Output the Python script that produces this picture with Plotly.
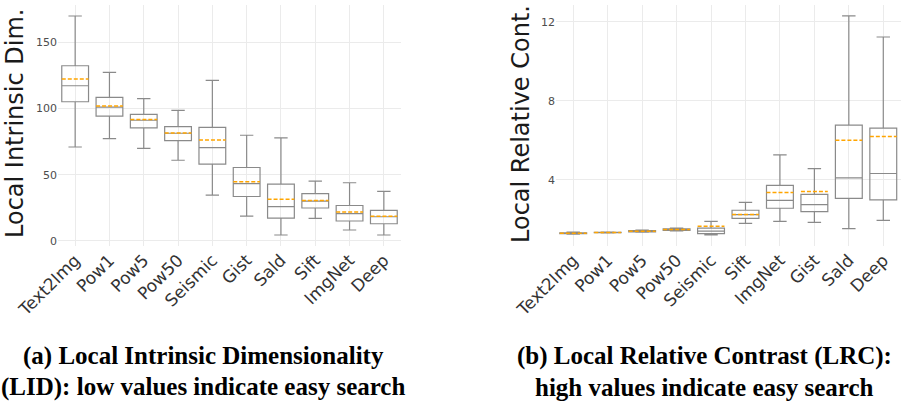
import plotly.graph_objects as go
from plotly.subplots import make_subplots

W, H = 901, 403

# ---- Data: Local Intrinsic Dimensionality (LID) ----
lid_cats = ["Text2Img", "Pow1", "Pow5", "Pow50", "Seismic", "Gist", "Sald", "Sift", "ImgNet", "Deep"]
lid_low = [71, 77.3, 70, 61, 34.7, 18.8, 4.5, 17, 8.3, 4.5]
lid_q1 = [105.2, 94.4, 85.4, 75.8, 58, 33.6, 17.3, 24.9, 15.1, 13]
lid_med = [117.3, 101.2, 91.2, 81.4, 70.6, 43.4, 25.9, 30.1, 20.6, 18.3]
lid_q3 = [132.4, 108.5, 95.7, 86.4, 85.9, 55.5, 43, 35.7, 26.8, 23.1]
lid_high = [170, 127.4, 107.5, 98.7, 121.3, 79.9, 77.9, 45.2, 44, 37.4]
lid_mean = [122.3, 102, 91.7, 81.5, 76.3, 44.7, 31.6, 30.6, 21.9, 18.6]

# ---- Data: Local Relative Contrast (LRC) ----
lrc_cats = ["Text2Img", "Pow1", "Pow5", "Pow50", "Seismic", "Sift", "ImgNet", "Gist", "Sald", "Deep"]
lrc_low = [1.25, 1.31, 1.35, 1.42, 1.21, 1.80, 1.90, 1.85, 1.53, 1.95]
lrc_q1 = [1.28, 1.32, 1.37, 1.44, 1.28, 2.05, 2.56, 2.39, 3.06, 2.98]
lrc_med = [1.30, 1.33, 1.40, 1.48, 1.40, 2.24, 2.96, 2.74, 4.10, 4.32]
lrc_q3 = [1.32, 1.34, 1.43, 1.52, 1.55, 2.46, 3.72, 3.26, 6.77, 6.62]
lrc_high = [1.35, 1.35, 1.45, 1.55, 1.90, 2.86, 5.26, 4.57, 12.3, 11.23]
lrc_mean = [1.30, 1.33, 1.40, 1.48, 1.65, 2.25, 3.36, 3.41, 6.0, 6.19]

lid_title = "Local Intrinsic Dim."
lrc_title = "Local Relative Cont."
cap_a = ["(a) Local Intrinsic Dimensionality", "(LID): low values indicate easy search"]
cap_b = ["(b) Local Relative Contrast (LRC):", "high values indicate easy search"]

BOX_W = 0.78
LINE = "#8a8a8a"
MEAN = "#FFA500"
GRID = "#ebebeb"

fig = make_subplots(rows=1, cols=2)

def add_panel(col, cats, low, q1, med, q3, high, mean):
    fig.add_trace(go.Box(
        x=cats, q1=q1, median=med, q3=q3, lowerfence=low, upperfence=high,
        boxpoints=False, width=BOX_W, whiskerwidth=0.5,
        fillcolor="rgba(255,255,255,0)", line=dict(color=LINE, width=1.2),
        showlegend=False, hoverinfo="skip"), row=1, col=col)
    xr = "x" if col == 1 else "x2"
    yr = "y" if col == 1 else "y2"
    for i, m in enumerate(mean):
        fig.add_shape(type="line", xref=xr, yref=yr,
                      x0=i - BOX_W / 2, x1=i + BOX_W / 2, y0=m, y1=m,
                      line=dict(color=MEAN, width=1.5, dash="4px,2px"))

add_panel(1, lid_cats, lid_low, lid_q1, lid_med, lid_q3, lid_high, lid_mean)
add_panel(2, lrc_cats, lrc_low, lrc_q1, lrc_med, lrc_q3, lrc_high, lrc_mean)

def dom_x(a, b):
    return [a / W, b / W]

y_dom = [1 - 246 / H, 1 - 5 / H]

xcommon = dict(showgrid=True, gridcolor=GRID, gridwidth=1, zeroline=False,
               showline=False, ticks="", tickangle=-45, automargin=False,
               tickfont=dict(family="DejaVu Sans", size=17, color="#333333"),
               range=[-0.5, 9.5])
ycommon = dict(showgrid=True, gridcolor=GRID, gridwidth=1, zeroline=False,
               showline=False, ticks="", automargin=False,
               tickfont=dict(family="DejaVu Sans", size=11, color="#4d4d4d"))

fig.update_xaxes(domain=dom_x(58, 401), row=1, col=1, **xcommon)
fig.update_xaxes(domain=dom_x(556, 900.5), row=1, col=2, **xcommon)
fig.update_yaxes(domain=y_dom, range=[-3.8, 178.3], tickvals=[0, 50, 100, 150], row=1, col=1, **ycommon)
fig.update_yaxes(domain=y_dom, range=[0.65, 12.85], tickvals=[4, 8, 12], row=1, col=2, **ycommon)

ymid = 1 - 124 / H
fig.add_annotation(text=lid_title, textangle=-90, xref="paper", yref="paper",
                   x=15 / W, y=ymid, showarrow=False, xanchor="center", yanchor="middle",
                   font=dict(family="DejaVu Sans", size=24, color="#1a1a1a"))
fig.add_annotation(text=lrc_title, textangle=-90, xref="paper", yref="paper",
                   x=521 / W, y=ymid, showarrow=False, xanchor="center", yanchor="middle",
                   font=dict(family="DejaVu Sans", size=24, color="#1a1a1a"))

capfont = dict(family="Liberation Serif", size=25, color="#000000")
for cx, lines in ((203, cap_a), (704, cap_b)):
    for k, t in enumerate(lines):
        fig.add_annotation(text="<b>" + t + "</b>", xref="paper", yref="paper",
                           x=cx / W, y=1 - (356 + 31 * k) / H, showarrow=False,
                           xanchor="center", yanchor="middle", font=capfont)

fig.update_layout(width=W, height=H, margin=dict(l=0, r=0, t=0, b=0),
                  paper_bgcolor="white", plot_bgcolor="white")

fig.write_html("out.html")
